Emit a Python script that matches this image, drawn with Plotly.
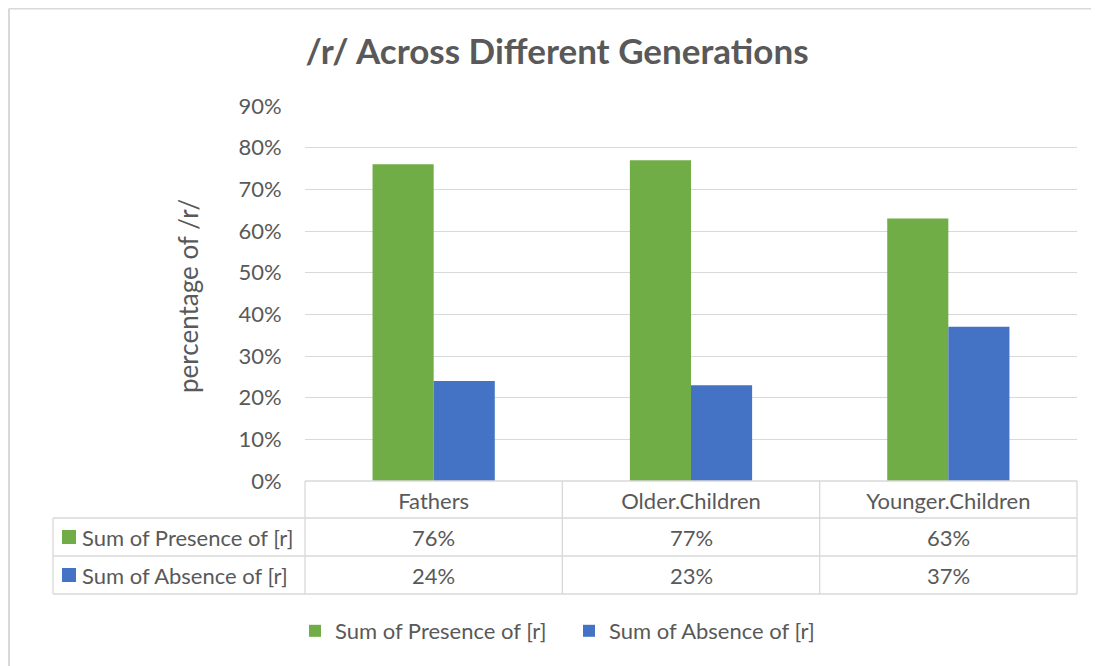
import plotly.graph_objects as go

categories = ["Fathers", "Older.Children", "Younger.Children"]
series_names = ["Sum of Presence of [r]", "Sum of Absence of [r]"]
presence = [0.76, 0.77, 0.63]
absence = [0.24, 0.23, 0.37]
series_values = [presence, absence]
colors = ["#70ad47", "#4472c4"]
tick_vals = [0, 0.1, 0.2, 0.3, 0.4, 0.5, 0.6, 0.7, 0.8, 0.9]

OFF = 8  # page body margin
W, H = 1099, 666
L, R, T, B = 305, 1077, 106, 481   # screen pixel targets
FONT = "Lato"
TXT = "#595959"
GRID = "#d9d9d9"
FS = 22


def px(x):
    return (x - L) / (R - L)


def py(y):
    return (B - y) / (B - T)


fig = go.Figure()
for name, vals, c in zip(series_names, series_values, colors):
    fig.add_trace(go.Bar(x=categories, y=vals, name=name, marker_color=c,
                         marker_line_width=0))

shapes = []
line = dict(color=GRID, width=1.3)
# outer chart border (left and top only visible)
shapes.append(dict(type="line", xref="paper", yref="paper", x0=px(9), x1=px(1120),
                   y0=py(8.5), y1=py(8.5), line=dict(color=GRID, width=2)))
shapes.append(dict(type="line", xref="paper", yref="paper", x0=px(9), x1=px(9),
                   y0=py(8.5), y1=py(690), line=dict(color=GRID, width=2)))
# table
row_y = [481, 518, 556, 594]
col_x = [L, L + (R - L) / 3, L + 2 * (R - L) / 3, R]
for i, y in enumerate(row_y):
    x0 = L if i == 0 else 53
    shapes.append(dict(type="line", xref="paper", yref="paper", x0=px(x0), x1=px(R),
                       y0=py(y), y1=py(y), line=line))
for x in col_x:
    shapes.append(dict(type="line", xref="paper", yref="paper", x0=px(x), x1=px(x),
                       y0=py(481), y1=py(594), line=line))
shapes.append(dict(type="line", xref="paper", yref="paper", x0=px(53), x1=px(53),
                   y0=py(518), y1=py(594), line=line))

annotations = []
row_centers = [537, 575]
for r, (name, vals, c) in enumerate(zip(series_names, series_values, colors)):
    yc = row_centers[r]
    shapes.append(dict(type="rect", xref="paper", yref="paper", x0=px(62), x1=px(76),
                       y0=py(yc - 7), y1=py(yc + 7), fillcolor=c, line_width=0))
    annotations.append(dict(text=name, xref="paper", yref="paper", x=px(80), y=py(yc),
                            xanchor="left", yanchor="middle", showarrow=False,
                            font=dict(family=FONT, size=FS, color=TXT)))
    for i, v in enumerate(vals):
        annotations.append(dict(text=f"{round(v * 100)}%", xref="x", yref="paper",
                                x=categories[i], y=py(yc), xanchor="center",
                                yanchor="middle", showarrow=False,
                                font=dict(family=FONT, size=FS, color=TXT)))

# y-axis title
annotations.append(dict(text="percentage of /r/", xref="paper", yref="paper",
                        x=px(188), y=py(296), xanchor="center", yanchor="middle",
                        textangle=-90, showarrow=False,
                        font=dict(family=FONT, size=26, color=TXT)))

fig.update_layout(
    width=W, height=H,
    margin=dict(l=L - OFF, r=W - (R - OFF), t=T - OFF, b=H - (B - OFF), autoexpand=False),
    paper_bgcolor="white", plot_bgcolor="white",
    title=dict(text="<b>/r/ Across Different Generations</b>", x=(557 - OFF) / W,
               xanchor="center", y=1 - (52 - OFF) / H, yanchor="middle",
               font=dict(family=FONT, size=35, color=TXT)),
    barmode="group", bargap=0.525, bargroupgap=0,
    font=dict(family=FONT, color=TXT),
    xaxis=dict(showgrid=False, ticks="outside", ticklen=1, tickcolor="rgba(0,0,0,0)",
               tickfont=dict(family=FONT, size=FS, color=TXT), showline=False,
               automargin=False),
    yaxis=dict(range=[0, 0.9], tickvals=tick_vals, tickformat=".0%", showgrid=True,
               gridcolor=GRID, gridwidth=1.3, zeroline=False, showline=False,
               ticks="outside", ticklen=18, tickcolor="rgba(0,0,0,0)",
               tickfont=dict(family=FONT, size=FS, color=TXT), automargin=False),
    legend=dict(orientation="h", x=px(569), xanchor="center", y=py(631),
                yanchor="middle", font=dict(family=FONT, size=FS, color=TXT),
                itemwidth=30, entrywidth=229, traceorder="normal"),
    shapes=shapes, annotations=annotations,
)

fig.write_html("out.html")
